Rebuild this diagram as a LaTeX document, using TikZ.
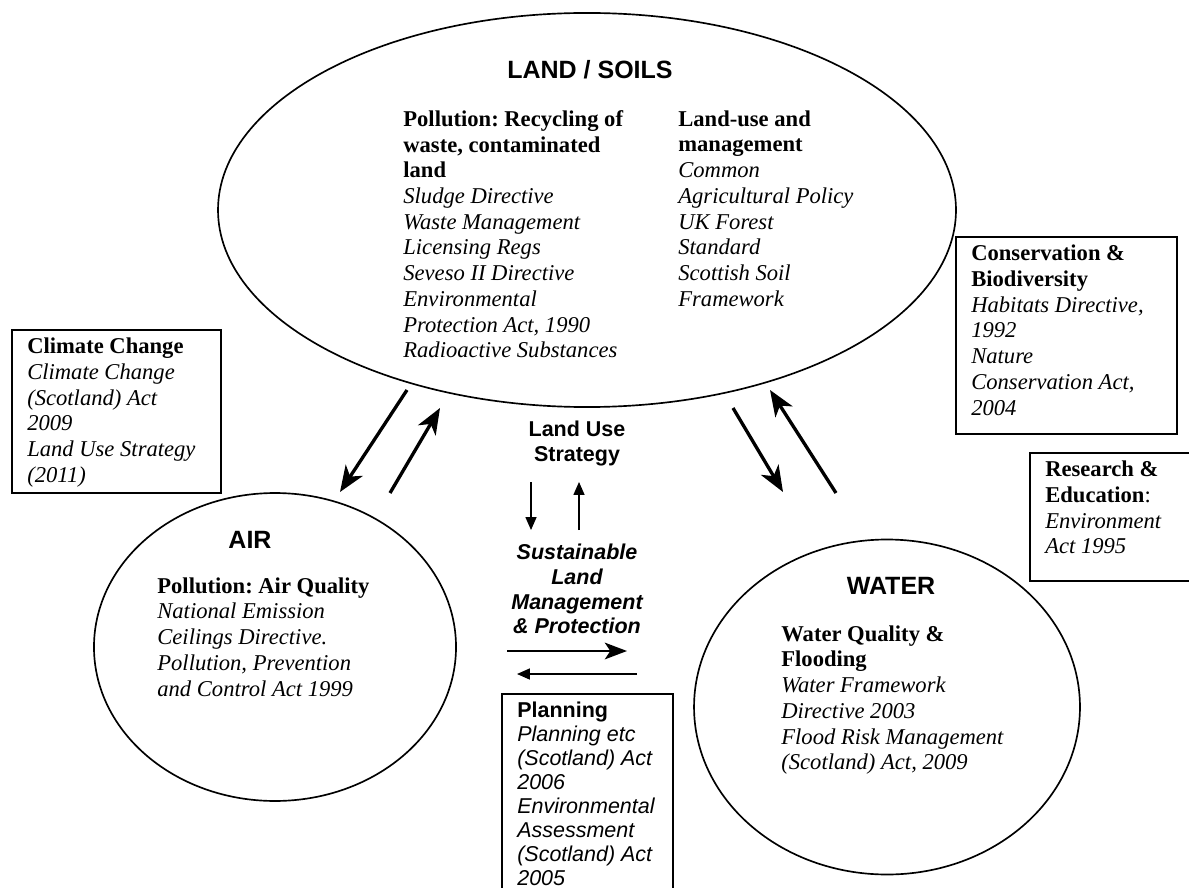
\documentclass[tikz,border=0pt]{standalone}
\usepackage{fontspec}
\setmainfont{Liberation Serif}
\setsansfont{Liberation Sans}
\usetikzlibrary{positioning,arrows.meta,shapes.geometric}
\frenchspacing

\begin{document}
\begin{tikzpicture}[
  x=0.54pt,y=-0.54pt,
  >={Stealth[length=14pt,width=11pt,inset=4pt]},
  sphere/.style={draw,ellipse,line width=0.9pt,inner sep=0pt},
  topic/.style={font=\sffamily\bfseries\fontsize{13.5}{16}\selectfont},
  law/.style={anchor=north west,align=left,inner sep=0pt,font=\fontsize{12.2}{13.9}\selectfont},
  planlaw/.style={law,font=\sffamily\fontsize{11.6}{13.0}\selectfont},
  cue/.style={anchor=north,align=center,inner sep=0pt,font=\sffamily\bfseries\fontsize{11.6}{13.4}\selectfont},
  lawbox/.style={draw,line width=1.1pt,anchor=north west,inner sep=0pt},
  inbox/.style={below right=4.6pt and 8.6pt of #1.north west},
  link/.style={->,line width=1.8pt},
  sweep/.style={-{Stealth[length=12pt,width=9pt,inset=3pt]},line width=1.3pt},
  hint/.style={-{Triangle[length=7pt,width=6pt]},line width=0.6pt},
]
\useasboundingbox (0,0) rectangle (1189,888);

% land / soils (top)
\node[sphere,minimum width=398.5pt,minimum height=212.8pt] (land) at (587,210) {};
\node[topic] (landtitle) at (590,70) {LAND / SOILS};
\node[law] (pollution) at (403,110) {\textbf{Pollution: Recycling of}\\\textbf{waste, contaminated}\\\textbf{land}\\
  \textit{Sludge Directive}\\\textit{Waste Management}\\\textit{Licensing Regs}\\\textit{Seveso II Directive}\\
  \textit{Environmental}\\\textit{Protection Act, 1990}\\\textit{Radioactive Substances}};
\node[law] (landuse) at (678,110) {\textbf{Land-use and}\\\textbf{management}\\\textit{Common}\\
  \textit{Agricultural Policy}\\\textit{UK Forest}\\\textit{Standard}\\\textit{Scottish Soil}\\\textit{Framework}};

% air (left)
\node[sphere,minimum width=195.5pt,minimum height=166.3pt] (air) at (275,647) {};
\node[topic] (airtitle) at (250,540) {AIR};
\node[law] (airquality) at (157,577) {\textbf{Pollution: Air Quality}\\\textit{National Emission}\\
  \textit{Ceilings Directive.}\\\textit{Pollution, Prevention}\\\textit{and Control Act 1999}};

% water (right)
\node[sphere,minimum width=208.4pt,minimum height=180.9pt] (water) at (887,707) {};
\node[topic] (watertitle) at (891,586) {WATER};
\node[law] (flooding) at (781,625) {\textbf{Water Quality \&}\\\textbf{Flooding}\\\textit{Water Framework}\\
  \textit{Directive 2003}\\\textit{Flood Risk Management}\\\textit{(Scotland) Act, 2009}};

% side boxes
\node[lawbox,minimum width=112.9pt,minimum height=88pt] (climate) at (11,329) {};
\node[law,inbox=climate] (climatetxt) {\textbf{Climate Change}\\\textit{Climate Change}\\\textit{(Scotland) Act}\\
  \textit{2009}\\\textit{Land Use Strategy}\\\textit{(2011)}};
\node[lawbox,minimum width=119.3pt,minimum height=106.4pt] (conserv) at (955,236) {};
\node[law,inbox=conserv] (conservtxt) {\textbf{Conservation \&}\\\textbf{Biodiversity}\\\textit{Habitats Directive,}\\
  \textit{1992}\\\textit{Nature}\\\textit{Conservation Act,}\\\textit{2004}};
\node[lawbox,minimum width=92.3pt,minimum height=69.1pt] (research) at (1029,452) {};
\node[law,inbox=research] (researchtxt) {\textbf{Research \&}\\\textbf{Education}:\\\textit{Environment}\\\textit{Act 1995}};
\node[lawbox,minimum width=92.3pt,minimum height=111.8pt] (planning) at (501,693) {};
\node[planlaw,inbox=planning] (planningtxt) {\textbf{Planning}\\\textit{Planning etc}\\\textit{(Scotland) Act}\\
  \textit{2006}\\\textit{Environmental}\\\textit{Assessment}\\\textit{(Scotland) Act}\\\textit{2005}};

% middle labels
\node[cue] (strategy) at (577,421) {Land Use\\Strategy};
\node[cue,font=\sffamily\bfseries\itshape\fontsize{11.6}{13.3}\selectfont] (slm) at (577,544) {Sustainable\\Land\\Management\\\& Protection};

% arrow ends
\coordinate (la0) at (407,390); \coordinate (la1) at (340,492);
\coordinate (al0) at (390,493); \coordinate (al1) at (440,408);
\coordinate (lw0) at (733,408); \coordinate (lw1) at (783,492);
\coordinate (wl0) at (836,493); \coordinate (wl1) at (770,390);
\coordinate (sd0) at (531,482); \coordinate (sd1) at (531,530);
\coordinate (su0) at (579,530); \coordinate (su1) at (579,482);
\coordinate (hr0) at (507,651); \coordinate (hr1) at (627,651);
\coordinate (hl0) at (637,674); \coordinate (hl1) at (517,674);

\draw[link] (la0) -- (la1);
\draw[link] (al0) -- (al1);
\draw[link] (lw0) -- (lw1);
\draw[link] (wl0) -- (wl1);
\draw[hint] (sd0) -- (sd1);
\draw[hint] (su0) -- (su1);
\draw[sweep] (hr0) -- (hr1);
\draw[hint,line width=0.7pt] (hl0) -- (hl1);
\end{tikzpicture}
\end{document}
